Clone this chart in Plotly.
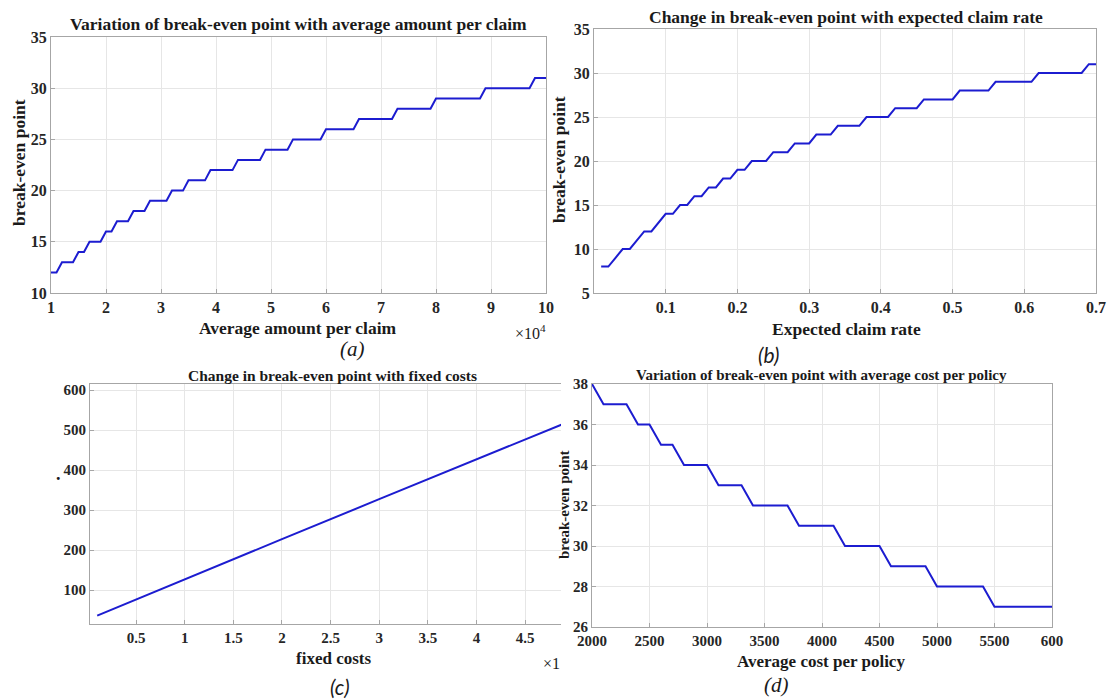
import plotly.graph_objects as go

# ---------------- data ----------------
a_x = list(range(10000, 100001, 1000))
a_y = [12, 12, 13, 13, 13, 14, 14, 15, 15, 15, 16, 16, 17, 17, 17, 18, 18, 18,
       19, 19, 19, 19, 20, 20, 20, 21, 21, 21, 21, 22, 22, 22, 22, 22,
       23, 23, 23, 23, 23, 24, 24, 24, 24, 24, 25, 25, 25, 25, 25, 25,
       26, 26, 26, 26, 26, 26, 27, 27, 27, 27, 27, 27, 27,
       28, 28, 28, 28, 28, 28, 28, 29, 29, 29, 29, 29, 29, 29, 29, 29,
       30, 30, 30, 30, 30, 30, 30, 30, 30, 31, 31, 31]

b_x = [round(0.01 * i, 2) for i in range(1, 71)]
b_y = [8, 8, 9, 10, 10, 11, 12, 12, 13, 14, 14, 15, 15, 16, 16, 17, 17, 18, 18, 19, 19,
       20, 20, 20, 21, 21, 21, 22, 22, 22, 23, 23, 23,
       24, 24, 24, 24, 25, 25, 25, 25, 26, 26, 26, 26,
       27, 27, 27, 27, 27, 28, 28, 28, 28, 28,
       29, 29, 29, 29, 29, 29, 30, 30, 30, 30, 30, 30, 30, 31, 31]

c_x = [0.1, 1, 2, 3, 4, 4.9]
c_y = [36, 127, 227, 327, 426, 516]

d_x = list(range(2000, 6001, 100))
d_y = [38, 37, 37, 37, 36, 36, 35, 35, 34, 34, 34, 33, 33, 33,
       32, 32, 32, 32, 31, 31, 31, 31, 30, 30, 30, 30, 29, 29, 29, 29,
       28, 28, 28, 28, 28, 27, 27, 27, 27, 27, 27]

a_xticks = list(range(10000, 100001, 10000))
a_xticktext = ["1", "2", "3", "4", "5", "6", "7", "8", "9", "10"]
a_yticks = [10, 15, 20, 25, 30, 35]
b_xticks = [0.1, 0.2, 0.3, 0.4, 0.5, 0.6, 0.7]
b_xticktext = ["0.1", "0.2", "0.3", "0.4", "0.5", "0.6", "0.7"]
b_yticks = [5, 10, 15, 20, 25, 30, 35]
c_xticks = [0.5, 1, 1.5, 2, 2.5, 3, 3.5, 4, 4.5]
c_xticktext = ["0.5", "1", "1.5", "2", "2.5", "3", "3.5", "4", "4.5"]
c_yticks = [100, 200, 300, 400, 500, 600]
d_xticks = [2000, 2500, 3000, 3500, 4000, 4500, 5000, 5500, 6000]
d_xticktext = ["2000", "2500", "3000", "3500", "4000", "4500", "5000", "5500", "600"]
d_yticks = [26, 28, 30, 32, 34, 36, 38]

# ---------------- figure ----------------
W, H = 1111, 699
LINE = dict(color="#1c1cd0", width=2)
SERIF = "Liberation Serif"

def px(x0, x1):
    return [x0 / W, x1 / W]

def py(top, bottom):
    return [1 - bottom / H, 1 - top / H]

def bold(labels):
    return ["<b>" + str(s) + "</b>" for s in labels]

fig = go.Figure()
fig.add_trace(go.Scatter(x=a_x, y=a_y, mode="lines", line=LINE, xaxis="x", yaxis="y"))
fig.add_trace(go.Scatter(x=b_x, y=b_y, mode="lines", line=LINE, xaxis="x2", yaxis="y2"))
fig.add_trace(go.Scatter(x=c_x, y=c_y, mode="lines", line=LINE, xaxis="x3", yaxis="y3"))
fig.add_trace(go.Scatter(x=d_x, y=d_y, mode="lines", line=LINE, xaxis="x4", yaxis="y4"))

def axis(domain, rng, anchor, size, vals, texts, mirror=True):
    return dict(domain=domain, range=rng, anchor=anchor, showgrid=True,
                gridcolor="#e6e6e6", gridwidth=1, zeroline=False,
                showline=True, linecolor="#a6a6a6", linewidth=1, mirror=mirror,
                ticks="inside", ticklen=4, tickcolor="#a6a6a6",
                tickvals=vals, ticktext=bold(texts), automargin=False,
                tickfont=dict(family=SERIF, size=size, color="#262626"),
                layer="below traces")

fig.update_layout(
    width=W, height=H, margin=dict(l=0, r=0, t=0, b=0, pad=0, autoexpand=False),
    paper_bgcolor="white", plot_bgcolor="white", showlegend=False,
    xaxis=axis(px(51, 546), [10000, 100000], "y", 16, a_xticks, a_xticktext),
    yaxis=axis(py(37, 293), [10, 35], "x", 16, a_yticks, a_yticks),
    xaxis2=axis(px(594, 1096), [0, 0.7], "y2", 16, b_xticks, b_xticktext),
    yaxis2=axis(py(29, 293), [5, 35], "x2", 16, b_yticks, b_yticks),
    xaxis3=axis(px(90, 561), [0.026, 4.87], "y3", 15, c_xticks, c_xticktext),
    yaxis3=axis(py(384, 624), [15, 615], "x3", 15, c_yticks, c_yticks, mirror=False),
    xaxis4=axis(px(592, 1052), [2000, 6000], "y4", 15, d_xticks, d_xticktext),
    yaxis4=axis(py(384, 627), [26, 38], "x4", 15, d_yticks, d_yticks),
)

def note(text, x, y, size, b=True, italic=False, angle=0, family=SERIF):
    t = text
    if b:
        t = "<b>" + t + "</b>"
    if italic:
        t = "<i>" + t + "</i>"
    fig.add_annotation(text=t, x=x / W, y=1 - y / H, xref="paper", yref="paper",
                       showarrow=False, textangle=angle, xanchor="center", yanchor="middle",
                       font=dict(family=family, size=size, color="#1a1a1a"))

# panel (a)
note("Variation of break-even point with average amount per claim", 298, 24, 17.5)
note("Average amount per claim", 298, 328, 17.5)
note("break-even point", 19, 163, 17.5, angle=-90)
note("×10<sup>4</sup>", 530, 332, 16, b=False)
note("(a)", 352, 349, 21, b=False, italic=True)

# panel (b)
note("Change in break-even point with expected claim rate", 846, 17, 17.5)
note("Expected claim rate", 846, 329, 17.5)
note("break-even point", 559, 160, 17.5, angle=-90)
note("(b)", 768, 354, 21, b=False, italic=True, family="Lato")

# panel (c)
note("Change in break-even point with fixed costs", 332, 375, 15.5)
note("fixed costs", 333, 658, 17)
note(".", 58, 474, 18)
note("×1", 551, 663, 16, b=False)
note("(c)", 340, 686, 21, b=False, italic=True, family="Lato")

# panel (d)
note("Variation of break-even point with average cost per policy", 821, 375, 15)
note("Average cost per policy", 821, 661, 17)
note("break-even point", 564, 505, 15, angle=-90)
note("(d)", 777, 685, 21, b=False, italic=True)

fig.write_html("out.html")
